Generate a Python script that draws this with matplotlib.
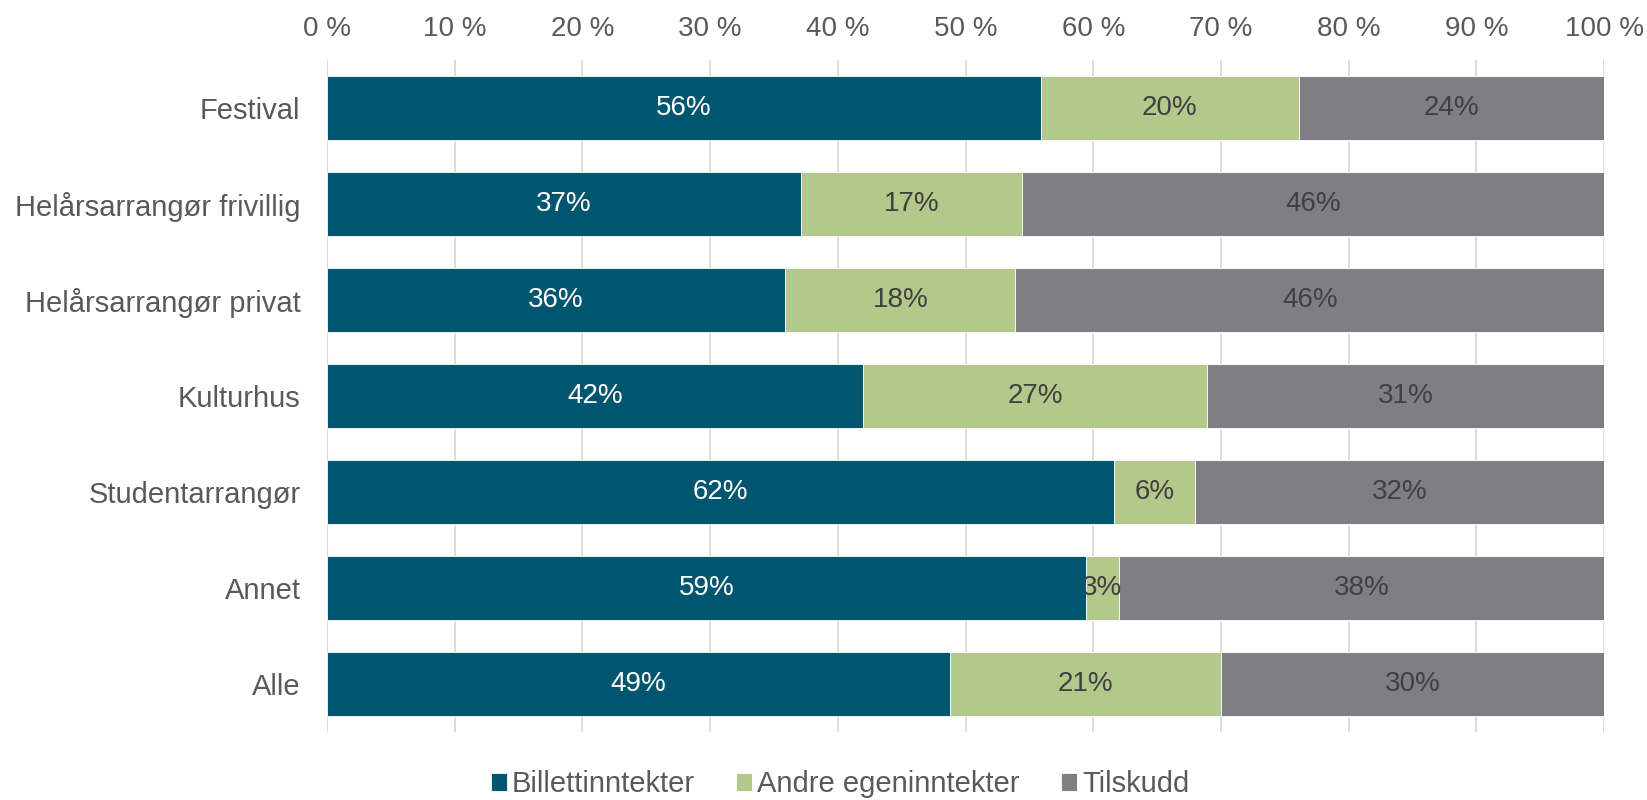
import matplotlib
matplotlib.use("Agg")
import matplotlib.pyplot as plt
import numpy as np

categories = ["Festival", "Helårsarrangør frivillig", "Helårsarrangør privat",
              "Kulturhus", "Studentarrangør", "Annet", "Alle"]
series_names = ["Billettinntekter", "Andre egeninntekter", "Tilskudd"]
billett = [55.9, 37.1, 35.9, 42.0, 61.6, 59.4, 48.8]
andre = [20.2, 17.3, 18.0, 26.9, 6.4, 2.6, 21.2]
tilskudd = [23.9, 45.6, 46.1, 31.1, 32.0, 38.0, 30.0]
xticks = [0, 10, 20, 30, 40, 50, 60, 70, 80, 90, 100]
xticklabels = [f"{t} %" for t in xticks]

colors = ["#01566F", "#B3C88B", "#7F7E83"]
label_colors = ["white", "#404040", "#404040"]
text_color = "#595959"

plt.rcParams['font.family'] = ['Liberation Sans', 'DejaVu Sans']

fig = plt.figure(figsize=(16.47, 8.0), dpi=100)
ax = fig.add_axes([0.1985, 0.085, 0.7755, 0.84])

y = np.arange(len(categories))
left = np.zeros(len(categories))
for vals, name, c, lc in zip([billett, andre, tilskudd], series_names, colors, label_colors):
    vals = np.array(vals)
    ax.barh(y, vals, left=left, height=0.67, color=c, label=name,
            edgecolor="white", linewidth=0.6, zorder=3)
    for yi, l, v in zip(y, left, vals):
        ax.text(l + v / 2, yi, f"{v:.0f}%", ha="center", va="center",
                color=lc, fontsize=20, zorder=4)
    left = left + vals

ax.set_xlim(0, 100)
ax.set_ylim(len(categories) - 0.5, -0.5)
ax.set_yticks(y)
ax.set_yticklabels(categories, fontsize=21, color=text_color)
ax.xaxis.tick_top()
ax.set_xticks(xticks)
ax.set_xticklabels(xticklabels, fontsize=20, color=text_color)
ax.tick_params(axis="both", length=0)
ax.tick_params(axis="x", pad=13)
ax.tick_params(axis="y", pad=19)
ax.grid(axis="x", color="#D9D9D9", linewidth=1.3, zorder=0)
for s in ax.spines.values():
    s.set_visible(False)

leg = fig.legend(loc="lower center", bbox_to_anchor=(0.51, 0.002), ncol=3, frameon=False,
                 fontsize=21, handlelength=0.55, handleheight=0.55, handletextpad=0.18,
                 columnspacing=1.4, borderpad=0, borderaxespad=0)
for t in leg.get_texts():
    t.set_color(text_color)

fig.savefig("out.png", dpi=100)
